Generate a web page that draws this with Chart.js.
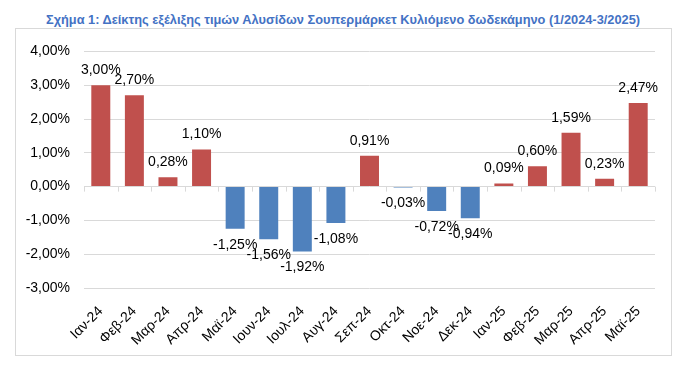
<!DOCTYPE html>
<html>
<head>
<meta charset="utf-8">
<script src="https://cdn.jsdelivr.net/npm/chart.js@4.4.1/dist/chart.umd.min.js"></script>
<style>
    body { margin: 0; background: #fff; width: 681px; height: 365px; position: relative; overflow: hidden; }
    .chart-title {
        position: absolute; left: 0; top: 12px; width: 681px; text-align: center;
        font: bold 12.8px "Liberation Sans", Arial, sans-serif; color: #4472C4;
        padding-left: 5px; box-sizing: border-box;
    }
    .chart-box {
        position: absolute; left: 15px; top: 28px; width: 655px; height: 326px;
        border: 1px solid #d9d9d9;
    }
</style>
</head>
<body>
<div class="chart-title">Σχήμα 1: Δείκτης εξέλιξης τιμών Αλυσίδων Σουπερμάρκετ Κυλιόμενο δωδεκάμηνο (1/2024-3/2025)</div>
<div class="chart-box"><canvas id="myChart" width="655" height="326"></canvas></div>
<script>
const months = ['Ιαν-24', 'Φεβ-24', 'Μαρ-24', 'Απρ-24', 'Μαϊ-24', 'Ιουν-24', 'Ιουλ-24', 'Αυγ-24', 'Σεπ-24',
    'Οκτ-24', 'Νοε-24', 'Δεκ-24', 'Ιαν-25', 'Φεβ-25', 'Μαρ-25', 'Απρ-25', 'Μαϊ-25'];
const change_values = [3.00, 2.70, 0.28, 1.10, -1.25, -1.56, -1.92, -1.08, 0.91,
    -0.03, -0.72, -0.94, 0.09, 0.60, 1.59, 0.23, 2.47];
const y_ticks = [-3, -2, -1, 0, 1, 2, 3, 4];

const font_family = '"Liberation Sans", Arial, sans-serif';
const fmt = v => v.toFixed(2).replace('.', ',') + '%';

// value labels above / below each bar
const barLabels = {
    id: 'barLabels',
    afterDatasetsDraw(chart) {
        const ctx = chart.ctx;
        const meta = chart.getDatasetMeta(0);
        ctx.save();
        ctx.font = '14px ' + font_family;
        ctx.fillStyle = '#000';
        ctx.textAlign = 'center';
        ctx.textBaseline = 'middle';
        meta.data.forEach((bar, i) => {
            const v = change_values[i];
            const y = v >= 0 ? bar.y - 15 : bar.y + 16;
            ctx.fillText(fmt(v), bar.x, y);
        });
        ctx.restore();
    }
};

// small tick marks on the zero line between categories
const zeroTicks = {
    id: 'zeroTicks',
    beforeDatasetsDraw(chart) {
        const ctx = chart.ctx;
        const x = chart.scales.x;
        const y0 = chart.scales.y.getPixelForValue(0);
        const step = (x.right - x.left) / months.length;
        ctx.save();
        ctx.strokeStyle = '#d9d9d9';
        ctx.lineWidth = 1;
        ctx.beginPath();
        for (let i = 0; i <= months.length; i++) {
            const px = Math.round(x.left + i * step) + 0.5;
            ctx.moveTo(px, y0);
            ctx.lineTo(px, y0 + 5);
        }
        ctx.stroke();
        ctx.restore();
    }
};

const data = {
    labels: months,
    datasets: [{
        data: change_values,
        backgroundColor: change_values.map(v => v >= 0 ? '#C0504D' : '#4F81BD'),
        barPercentage: 0.565,
        categoryPercentage: 1.0
    }]
};

const config = {
    type: 'bar',
    data: data,
    options: {
        responsive: false,
        animation: false,
        events: [],
        layout: { padding: { left: 0, right: 16, top: 18, bottom: 0 } },
        plugins: {
            legend: { display: false },
            tooltip: { enabled: false },
            title: { display: false }
        },
        scales: {
            x: {
                grid: { display: false },
                border: { display: false },
                ticks: {
                    color: '#000',
                    font: { size: 14, family: font_family },
                    minRotation: 45,
                    maxRotation: 45,
                    padding: 7,
                    autoSkip: false
                },
                afterFit: scale => { scale.height = 67; }
            },
            y: {
                min: -3,
                max: 4,
                afterBuildTicks: scale => { scale.ticks = y_ticks.map(v => ({ value: v })); },
                grid: { color: '#d9d9d9', drawTicks: false },
                border: { display: false },
                ticks: {
                    color: '#000',
                    font: { size: 14, family: font_family },
                    padding: 14,
                    callback: v => fmt(v)
                },
                afterFit: scale => { scale.width = 68; }
            }
        }
    },
    plugins: [barLabels, zeroTicks]
};

const ctx = document.getElementById('myChart').getContext('2d');
const myChart = new Chart(ctx, config);
</script>
</body>
</html>
